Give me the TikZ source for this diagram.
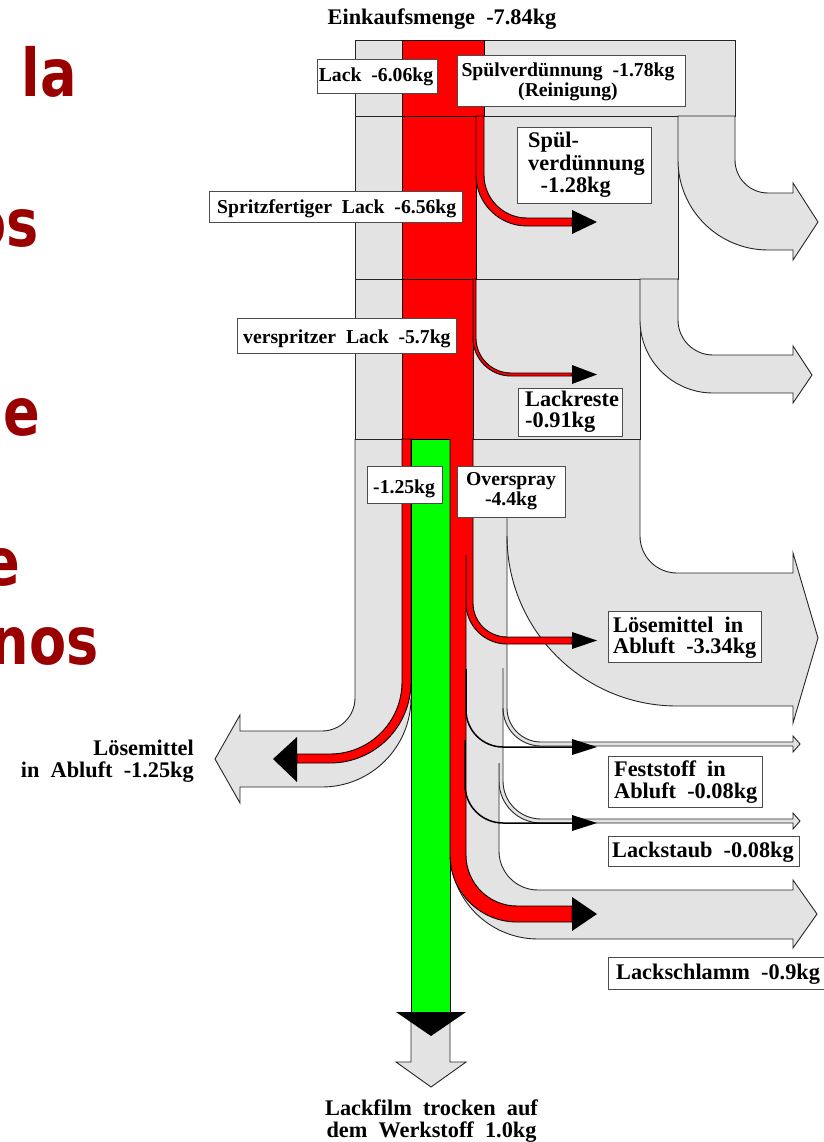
\documentclass[tikz,border=0pt]{standalone}
\usepackage{fontspec}
\setmainfont{Liberation Serif}
\newfontfamily\bannerfont{DejaVu Sans}

\definecolor{flowgray}{RGB}{227,227,227}
\definecolor{paintred}{RGB}{255,0,0}
\definecolor{filmgreen}{RGB}{0,255,0}
\definecolor{bannerred}{RGB}{153,0,0}

% doubled word spacing and the two label sizes
\newcommand\widesp{\spaceskip=.5em\relax\xspaceskip=.5em\relax}
\newcommand\fontA{\bfseries\fontsize{19.7pt}{20pt}\selectfont\widesp}
\newcommand\fontB{\bfseries\fontsize{22.3pt}{22pt}\selectfont\widesp}
% multi-line labels, baseline at the first line; #1 = line distance
\newcommand\stackL[2]{\vtop{\baselineskip=#1\relax\let\\\cr\lineskiplimit=-1000pt\relax\halign{##\hfil\cr#2\crcr}}}
\newcommand\stackC[2]{\vtop{\baselineskip=#1\relax\let\\\cr\lineskiplimit=-1000pt\relax\halign{\hfil##\hfil\cr#2\crcr}}}
\newcommand\stackR[2]{\vtop{\baselineskip=#1\relax\let\\\cr\lineskiplimit=-1000pt\relax\halign{\hfil##\cr#2\crcr}}}

\tikzset{
  flow/.style={fill=flowgray, draw=black!85, line width=0.9pt},
  flowfill/.style={fill=flowgray},
  edge/.style={draw=black!85, line width=0.9pt},
  redflow/.style={fill=paintred, draw=black, line width=0.9pt},
  redfill/.style={fill=paintred},
  rededge/.style={draw=black, line width=0.9pt},
  tip/.style={fill=black},
  thinflow/.style={draw=black, line width=1.5pt},
  box/.style={draw=black!70, fill=white, line width=1pt, inner sep=0pt},
  txt/.style={inner sep=0pt},
  banner/.style={inner sep=0pt, text=bannerred, anchor=base east, xscale=0.82,
    font=\bannerfont\bfseries\fontsize{66pt}{66pt}\selectfont},
}

\begin{document}
\begin{tikzpicture}[x=1pt,y=-1pt]
\useasboundingbox (0,0) rectangle (823,1142);

% word fragments at the left edge
\begin{scope}
\clip (0,0) rectangle (823,1142);
\node[banner] (frag1) at (77,97) {la};
\node[banner] (frag2) at (39,246) {os};
\node[banner] (frag3) at (40,435) {e};
\node[banner] (frag4) at (20,585) {e};
\node[banner] (frag5) at (99,664) {nos};
\end{scope}

% ---------- gray process bands ----------
\path[flow] (355,40) rectangle (735,116);
\path[flow] (355,116) rectangle (678,279);

% outflow of the rinsing thinner
\path[flow] (678,116) -- (678,160) arc[start angle=180,end angle=270,radius=90pt]
  -- (793,250) -- (793,260) -- (818,222) -- (793,183) -- (793,193) -- (768,193)
  arc[start angle=270,end angle=180,radius=33pt] -- (735,116) -- cycle;

% spray zone
\fill[flowgray] (355,439) rectangle (640,536);
\fill[flowgray] (411,536) -- (507,536) -- (507,708) -- (503,708) -- (503,781)
  -- (499,781) -- (499,851) -- (411,851) -- cycle;

\path[flow] (355,279) rectangle (640,439);

% outflow of the paint residue
\path[flow] (640,279) -- (640,320) arc[start angle=180,end angle=270,radius=73pt]
  -- (793,393) -- (793,403) -- (812,375) -- (793,346) -- (793,355) -- (713,355)
  arc[start angle=270,end angle=180,radius=35pt] -- (678,279) -- cycle;

% solvent to exhaust, left
\path[flowfill] (355,440) -- (355,698) arc[start angle=0,end angle=-90,radius=33pt]
  -- (240,731) -- (240,715) -- (215,759) -- (240,803) -- (240,787) -- (322,787)
  arc[start angle=270,end angle=360,radius=89pt] -- (411,440) -- cycle;
\draw[edge] (355,439) -- (355,698) arc[start angle=0,end angle=-90,radius=33pt]
  -- (240,731) -- (240,715) -- (215,759) -- (240,803) -- (240,787) -- (322,787)
  arc[start angle=270,end angle=360,radius=89pt];

% solvent to exhaust, right
\path[flowfill] (507,440) -- (507,536) arc[start angle=180,end angle=270,radius=170pt]
  -- (793,706) -- (793,723) -- (818,638) -- (793,553) -- (793,573) -- (677,573)
  arc[start angle=270,end angle=180,radius=37pt] -- (640,440) -- cycle;
\draw[edge] (507,536) arc[start angle=180,end angle=270,radius=170pt]
  -- (793,706) -- (793,723) -- (818,638) -- (793,553) -- (793,573) -- (677,573)
  arc[start angle=270,end angle=180,radius=37pt] -- (640,439);

% solids to exhaust
\path[flowfill] (503,668) -- (503,708) arc[start angle=180,end angle=270,radius=38pt]
  -- (793,746) -- (793,752) -- (800,744) -- (793,736) -- (793,742) -- (541,742)
  arc[start angle=270,end angle=180,radius=34pt] -- (507,668) -- cycle;
\draw[edge] (503,668) -- (503,708) arc[start angle=180,end angle=270,radius=38pt]
  -- (793,746) -- (793,752) -- (800,744) -- (793,736) -- (793,742) -- (541,742)
  arc[start angle=270,end angle=180,radius=34pt] -- (507,517);

% paint dust
\path[flowfill] (499,763) -- (499,781) arc[start angle=180,end angle=270,radius=42pt]
  -- (793,823) -- (793,829) -- (800,821) -- (793,813) -- (793,819) -- (541,819)
  arc[start angle=270,end angle=180,radius=38pt] -- (503,763) -- cycle;
\draw[edge] (499,763) -- (499,781) arc[start angle=180,end angle=270,radius=42pt]
  -- (793,823) -- (793,829) -- (800,821) -- (793,813) -- (793,819) -- (541,819)
  arc[start angle=270,end angle=180,radius=38pt] -- (503,708);

% paint sludge
\path[flowfill] (499,763) -- (499,851) arc[start angle=180,end angle=270,radius=39pt]
  -- (793,890) -- (793,880) -- (817,914) -- (793,948) -- (793,939) -- (538,939)
  arc[start angle=270,end angle=180,radius=88pt] -- (450,763) -- cycle;
\draw[edge] (499,763) -- (499,851) arc[start angle=180,end angle=270,radius=39pt]
  -- (793,890) -- (793,880) -- (817,914) -- (793,948) -- (793,939) -- (538,939)
  arc[start angle=270,end angle=180,radius=88pt];

% ---------- paint (red) ----------
\path[redflow] (402,40) rectangle (484,116);
\path[redflow] (402,116) rectangle (476,279);
\path[redflow] (402,279) rectangle (473,439);

\path[redflow] (476,116) -- (476,175) arc[start angle=180,end angle=270,radius=51pt]
  -- (572,226) -- (572,218) -- (527,218) arc[start angle=270,end angle=180,radius=43pt]
  -- (484,116) -- cycle;
\fill[tip] (572,210) -- (597,222) -- (572,234) -- cycle;

\path[redflow] (473,279) -- (473,338) arc[start angle=180,end angle=270,radius=38pt]
  -- (572,376) -- (572,373) -- (511,373) arc[start angle=270,end angle=180,radius=35pt]
  -- (476,279) -- cycle;
\fill[tip] (572,365) -- (597,374.5) -- (572,384) -- cycle;

\path[redflow] (402,439) -- (402,682) arc[start angle=0,end angle=-90,radius=72pt]
  -- (297,754) -- (297,763) -- (330,763) arc[start angle=270,end angle=360,radius=81pt]
  -- (411,439) -- cycle;
\fill[tip] (297,737) -- (273,759) -- (297,782) -- cycle;

% dry film (green) and its outlet
\path[fill=filmgreen, draw=black, line width=0.9pt] (411,439) rectangle (450,1012);
\path[flow] (450,1012) -- (450,1062) -- (466,1062) -- (431,1087) -- (396,1062)
  -- (411,1062) -- (411,1012);
\fill[tip] (396,1012) -- (431,1036) -- (466,1012) -- cycle;

% overspray paint
\path[redfill] (466,439) -- (466,603) arc[start angle=180,end angle=270,radius=41pt]
  -- (572,644) -- (572,637) -- (507,637) arc[start angle=270,end angle=180,radius=34pt]
  -- (473,439) -- cycle;
\draw[rededge] (466,555) -- (466,603) arc[start angle=180,end angle=270,radius=41pt]
  -- (572,644) -- (572,637) -- (507,637) arc[start angle=270,end angle=180,radius=34pt]
  -- (473,439);
\fill[tip] (572,632) -- (597,640.5) -- (572,649) -- cycle;

\path[redfill] (450,439) -- (466,439) -- (466,855) arc[start angle=180,end angle=270,radius=51pt]
  -- (572,906) -- (572,922) -- (517,922) arc[start angle=270,end angle=180,radius=67pt]
  -- cycle;
\draw[rededge] (466,555) -- (466,855) arc[start angle=180,end angle=270,radius=51pt]
  -- (572,906) -- (572,922) -- (517,922) arc[start angle=270,end angle=180,radius=67pt]
  -- (450,439);
\fill[tip] (572,897) -- (597,914) -- (572,931) -- cycle;

\draw[thinflow] (466,669) -- (466,710) arc[start angle=180,end angle=270,radius=37pt] -- (572,747);
\fill[tip] (572,739) -- (597,747) -- (572,755) -- cycle;
\draw[thinflow] (465,740) -- (465,785) arc[start angle=180,end angle=270,radius=38pt] -- (572,823);
\fill[tip] (572,815) -- (597,823) -- (572,831) -- cycle;

% ---------- labels ----------
\node[txt, font=\fontB, anchor=base] (tEin) at (442,25) {Einkaufsmenge -7.84kg};

\node[box, minimum width=120pt, minimum height=34pt] (bLack) at (377,77) {};
\node[txt, font=\fontA, anchor=base] (tLack) at (376,82) {Lack -6.06kg};

\node[box, minimum width=228pt, minimum height=51pt] (bSpv) at (571,81.5) {};
\node[txt, font=\fontA, anchor=base] (tSpv) at (568,77)
  {\stackC{20pt}{Spülverdünnung -1.78kg\\(Reinigung)}};

\node[box, minimum width=134pt, minimum height=75pt] (bSpul) at (584,165.5) {};
\node[txt, font=\fontB, anchor=base west] (tSpul) at (528,148)
  {\stackL{22.5pt}{Spül-\\verdünnung\\\kern12.5pt-1.28kg}};

\node[box, minimum width=253pt, minimum height=31pt] (bSpritz) at (335.5,206.5) {};
\node[txt, font=\fontA, anchor=base west] (tSpritz) at (217,213) {Spritzfertiger Lack -6.56kg};

\node[box, minimum width=219pt, minimum height=35pt] (bVersp) at (346.5,335.5) {};
\node[txt, font=\fontA, anchor=base west] (tVersp) at (243,343) {verspritzer Lack -5.7kg};

\node[box, minimum width=104pt, minimum height=48pt] (bRest) at (570,412) {};
\node[txt, font=\fontB, anchor=base west] (tRest) at (525,406.5)
  {\stackL{20.5pt}{Lackreste\\-0.91kg}};

\node[box, minimum width=75pt, minimum height=37pt] (bLeft) at (404.5,484.5) {};
\node[txt, font=\fontA, anchor=base west] (tLeft) at (373,493) {-1.25kg};

\node[box, minimum width=108pt, minimum height=51pt] (bOver) at (511,491.5) {};
\node[txt, font=\fontA, anchor=base] (tOver) at (511,485) {\stackC{20pt}{Overspray\\-4.4kg}};

\node[box, minimum width=153pt, minimum height=51pt] (bLos) at (684.5,636.5) {};
\node[txt, font=\fontB, anchor=base west] (tLos) at (613,632)
  {\stackL{21.5pt}{Lösemittel in\\Abluft -3.34kg}};

\node[box, minimum width=154pt, minimum height=51pt] (bFest) at (685,781.5) {};
\node[txt, font=\fontB, anchor=base west] (tFest) at (614,776)
  {\stackL{22pt}{Feststoff in\\Abluft -0.08kg}};

\node[box, minimum width=191pt, minimum height=30pt] (bStaub) at (703.5,851) {};
\node[txt, font=\fontB, anchor=base west] (tStaub) at (612,857) {Lackstaub -0.08kg};

\node[box, minimum width=218pt, minimum height=32pt] (bSchl) at (717,973) {};
\node[txt, font=\fontB, anchor=base west] (tSchl) at (616,979) {Lackschlamm -0.9kg};

\node[txt, font=\fontB, anchor=base east] (tLosL) at (194,755)
  {\stackR{22pt}{Lösemittel\\in Abluft -1.25kg}};

\node[txt, font=\fontB, anchor=base] (tFilm) at (431.5,1115)
  {\stackC{22pt}{Lackfilm trocken auf\\dem Werkstoff 1.0kg}};
\end{tikzpicture}
\end{document}
